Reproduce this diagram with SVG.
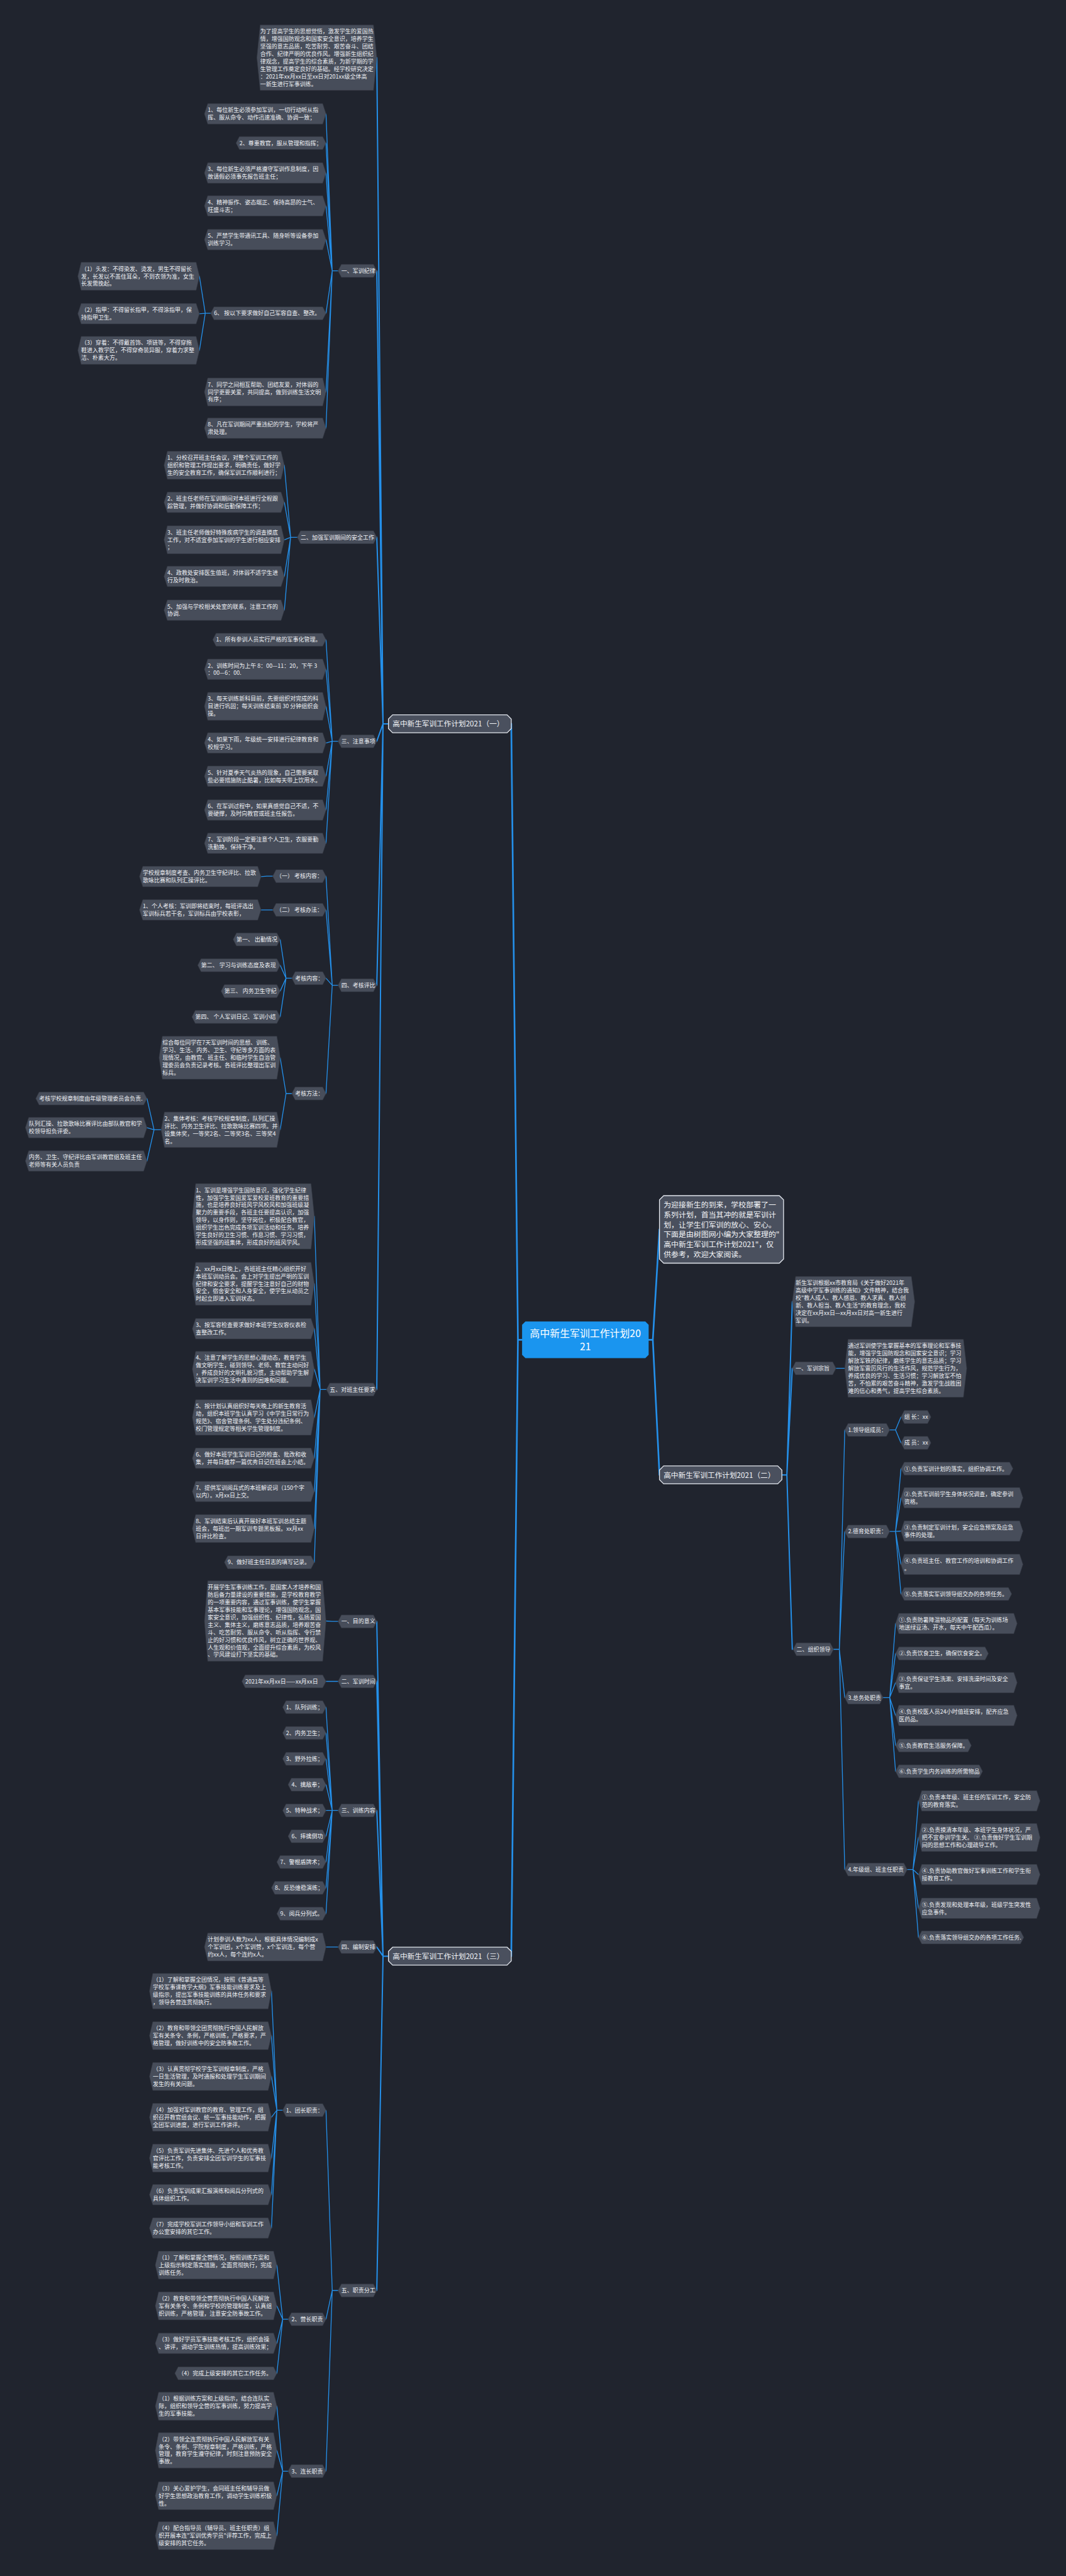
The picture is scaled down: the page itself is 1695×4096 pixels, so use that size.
<svg xmlns="http://www.w3.org/2000/svg" width="1695" height="4096" viewBox="0 0 1695 4096">
<style>
.bg{fill:#20242e}
.n path{fill:#474d5a;stroke:#353a45;stroke-width:1}
.t{font-family:"Noto Sans CJK SC","Microsoft YaHei",sans-serif;font-size:13.6px;fill:#eef0f4}
.l1 path{fill:#4a505e;stroke:#e3e7ee;stroke-width:2}
.t1{font-family:"Noto Sans CJK SC","Microsoft YaHei",sans-serif;font-size:17.6px;fill:#f2f4f7}
.ti{font-family:"Noto Sans CJK SC","Microsoft YaHei",sans-serif;font-size:18px;fill:#f2f4f7}
.root path{fill:#1a95ef}
.tr{font-family:"Noto Sans CJK SC","Microsoft YaHei",sans-serif;font-size:24px;fill:#ffffff;text-anchor:middle}
.c path{fill:none;stroke:#2490ea;stroke-linecap:round;stroke-linejoin:round}
.w1{stroke-width:4}.w2{stroke-width:3}.w3{stroke-width:2}
</style>
<rect class="bg" x="0" y="0" width="1695" height="4096"/>
<g transform="scale(0.662)">
<g id="connectors" class="c">
<path class="w1" d="M1254,3218H1244L1228,1738.5M1244,3218L1228,4698.5M1558,3218H1568L1584,2953M1568,3218L1584,3542.5"/>
<path class="w2" d="M933,1738.5H920M920,1738.5L905,138.5M920,1738.5L905,650.5M920,1738.5L905,1290.5M920,1738.5L905,1780.5M920,1738.5L905,2366.5M920,1738.5L905,3337.5
M933,4698.5H920M920,4698.5L905,3894.5M920,4698.5L905,4038.5M920,4698.5L905,4348.5M920,4698.5L905,4676.5M920,4698.5L905,5501.5
M1878,3542.5H1890M1890,3542.5L1903,3126.5M1890,3542.5L1903,3286.5M1890,3542.5L1903,3961.5"/>
<path class="w3" d="M812,650.5H798M798,650.5L783,273.5M798,650.5L783,343.5M798,650.5L783,415.5M798,650.5L783,494.5M798,650.5L783,575.5M798,650.5L783,752.5M798,650.5L783,941.5M798,650.5L783,1028.5
M506,752.5H493M493,752.5L479,663.5M493,752.5L479,753.5M493,752.5L479,841.5
M714,1290.5H698M698,1290.5L683,1117.5M698,1290.5L683,1206.5M698,1290.5L683,1296.5M698,1290.5L683,1384.5M698,1290.5L683,1465.5
M812,1780.5H798M798,1780.5L783,1536.5M798,1780.5L783,1607.5M798,1780.5L783,1696.5M798,1780.5L783,1784.5M798,1780.5L783,1864.5M798,1780.5L783,1945.5M798,1780.5L783,2025.5
M812,2366.5H798M798,2366.5L783,2104.5M798,2366.5L783,2185.5M798,2366.5L783,2349.5M798,2366.5L783,2626.5
M655,2104.5H641L627,2105.5M655,2185.5H627
M701,2349.5H687M687,2349.5L673,2256.5M687,2349.5L673,2318.5M687,2349.5L673,2380.5M687,2349.5L673,2442.5
M701,2626.5H687M687,2626.5L673,2540.5M687,2626.5L673,2713.5
M387,2713.5H370M370,2713.5L353,2638.5M370,2713.5L353,2708.5M370,2713.5L353,2788.5
M784,3337.5H769M769,3337.5L755,2921.5M769,3337.5L755,3083.5M769,3337.5L755,3191.5M769,3337.5L755,3288.5M769,3337.5L755,3404.5M769,3337.5L755,3502.5M769,3337.5L755,3582.5M769,3337.5L755,3671.5M769,3337.5L755,3752.5
M812,3894.5H798L783,3893.5M812,4038.5H783
M812,4348.5H798M798,4348.5L783,4100.5M798,4348.5L783,4162.5M798,4348.5L783,4224.5M798,4348.5L783,4286.5M798,4348.5L783,4348.5M798,4348.5L783,4410.5M798,4348.5L783,4472.5M798,4348.5L783,4534.5M798,4348.5L783,4596.5
M812,4676.5H783
M812,5501.5H798M798,5501.5L783,5068.5M798,5501.5L783,5570.5M798,5501.5L783,5935.5
M679,5068.5H665M665,5068.5L652,4782.5M665,5068.5L652,4889.5M665,5068.5L652,4987.5M665,5068.5L652,5085.5M665,5068.5L652,5183.5M665,5068.5L652,5271.5M665,5068.5L652,5351.5
M692,5570.5H679M679,5570.5L665,5440.5M679,5570.5L665,5538.5M679,5570.5L665,5628.5M679,5570.5L665,5700.5
M692,5935.5H679M679,5935.5L665,5779.5M679,5935.5L665,5885.5M679,5935.5L665,5994.5M679,5935.5L665,6090.5
M2008,3286.5H2029
M2002,3961.5H2016M2016,3961.5L2029,3434.5M2016,3961.5L2029,3678.5M2016,3961.5L2029,4077.5M2016,3961.5L2029,4490.5
M2137,3434.5H2151M2151,3434.5L2164,3403.5M2151,3434.5L2164,3465.5
M2137,3678.5H2151M2151,3678.5L2164,3527.5M2151,3678.5L2164,3597.5M2151,3678.5L2164,3677.5M2151,3678.5L2164,3757.5M2151,3678.5L2164,3828.5
M2121,4077.5H2137M2137,4077.5L2151,3899.5M2137,4077.5L2151,3971.5M2137,4077.5L2151,4041.5M2137,4077.5L2151,4120.5M2137,4077.5L2151,4192.5M2137,4077.5L2151,4254.5
M2179,4490.5H2193M2193,4490.5L2206,4325.5M2193,4490.5L2206,4413.5M2193,4490.5L2206,4502.5M2193,4490.5L2206,4583.5M2193,4490.5L2206,4653.5"/>
</g>

<g id="root" class="root" transform="translate(1254,3174)"><path d="M8,0H296L304,8V80L296,88H8L0,80V8Z"/><text class="tr" x="152" y="37.5">高中新生军训工作计划20<tspan x="152" dy="32">21</tspan></text></g>

<g id="plan1" class="l1" transform="translate(933,1717)"><path d="M10,0H285L295,10V33L285,43H10L0,33V10Z"/><text class="t1" x="10" y="28.2">高中新生军训工作计划2021（一）</text></g>
<g id="plan2" class="l1" transform="translate(1584,3521)"><path d="M10,0H284L294,10V33L284,43H10L0,33V10Z"/><text class="t1" x="10" y="28.2">高中新生军训工作计划2021（二）</text></g>
<g id="plan3" class="l1" transform="translate(933,4677)"><path d="M10,0H285L295,10V33L285,43H10L0,33V10Z"/><text class="t1" x="10" y="28.2">高中新生军训工作计划2021（三）</text></g>
<g id="intro" class="l1" transform="translate(1584,2872)"><path d="M10,0H288L298,10V152L288,162H10L0,152V10Z"/><text class="ti" x="10" y="28">为迎接新生的到来，学校部署了一<tspan x="10" dy="24">系列计划，首当其冲的就是军训计</tspan><tspan x="10" dy="24">划，让学生们军训的放心、安心。</tspan><tspan x="10" dy="24">下面是由树图网小编为大家整理的"</tspan><tspan x="10" dy="24">高中新生军训工作计划2021"，仅</tspan><tspan x="10" dy="24">供参考，欢迎大家阅读。</tspan></text></g>

<!-- section one -->
<g id="a0" class="n" transform="translate(617,60)"><path d="M8,0H280L288,78.5L280,157H8L0,78.5Z"/><text class="t" x="8" y="20.5">为了提高学生的思想觉悟，激发学生的爱国热<tspan x="8" dy="18">情，增强国防观念和国家安全意识，培养学生</tspan><tspan x="8" dy="18">坚强的意志品质，吃苦耐劳、艰苦奋斗、团结</tspan><tspan x="8" dy="18">合作、纪律严明的优良作风。增强新生组织纪</tspan><tspan x="8" dy="18">律观念，提高学生的综合素质，为新学期的学</tspan><tspan x="8" dy="18">生管理工作奠定良好的基础。经学校研究决定</tspan><tspan x="8" dy="18">：2021年xx月xx日至xx日对201xx级全体高</tspan><tspan x="8" dy="18">一新生进行军事训练。</tspan></text></g>

<g id="a1" class="n" transform="translate(812,635)"><path d="M8,0H85L93,15.5L85,31H8L0,15.5Z"/><text class="t" x="8" y="20.5">一、军训纪律</text></g>
<g id="a1-1" class="n" transform="translate(491,249)"><path d="M8,0H284L292,24.5L284,49H8L0,24.5Z"/><text class="t" x="8" y="20.5">1、每位新生必须参加军训，一切行动听从指<tspan x="8" dy="18">挥、服从命令、动作迅速准确、协调一致；</tspan></text></g>
<g id="a1-2" class="n" transform="translate(567,328)"><path d="M8,0H208L216,15.5L208,31H8L0,15.5Z"/><text class="t" x="8" y="20.5">2、尊重教官，服从管理和指挥；</text></g>
<g id="a1-3" class="n" transform="translate(491,391)"><path d="M8,0H284L292,24.5L284,49H8L0,24.5Z"/><text class="t" x="8" y="20.5">3、每位新生必须严格遵守军训作息制度，因<tspan x="8" dy="18">故请假必须事先报告班主任；</tspan></text></g>
<g id="a1-4" class="n" transform="translate(491,470)"><path d="M8,0H284L292,24.5L284,49H8L0,24.5Z"/><text class="t" x="8" y="20.5">4、精神振作、姿态端正、保持高昂的士气、<tspan x="8" dy="18">旺盛斗志；</tspan></text></g>
<g id="a1-5" class="n" transform="translate(491,551)"><path d="M8,0H284L292,24.5L284,49H8L0,24.5Z"/><text class="t" x="8" y="20.5">5、严禁学生带通讯工具、随身听等设备参加<tspan x="8" dy="18">训练学习。</tspan></text></g>
<g id="a1-6" class="n" transform="translate(506,737)"><path d="M8,0H269L277,15.5L269,31H8L0,15.5Z"/><text class="t" x="8" y="20.5">6、 按以下要求做好自己军容自查、整改。</text></g>
<g id="a1-6-1" class="n" transform="translate(187,630)"><path d="M8,0H284L292,33.5L284,67H8L0,33.5Z"/><text class="t" x="8" y="20.5">（1）头发：不得染发、烫发，男生不得留长<tspan x="8" dy="18">发，长发以不盖住耳朵，不到衣领为准，女生</tspan><tspan x="8" dy="18">长发需挽起。</tspan></text></g>
<g id="a1-6-2" class="n" transform="translate(187,729)"><path d="M8,0H284L292,24.5L284,49H8L0,24.5Z"/><text class="t" x="8" y="20.5">（2）指甲：不得留长指甲，不得涂指甲，保<tspan x="8" dy="18">持指甲卫生。</tspan></text></g>
<g id="a1-6-3" class="n" transform="translate(187,808)"><path d="M8,0H284L292,33.5L284,67H8L0,33.5Z"/><text class="t" x="8" y="20.5">（3）穿着：不得戴首饰、项链等，不得穿拖<tspan x="8" dy="18">鞋进入教学区，不得穿奇装异服，穿着力求整</tspan><tspan x="8" dy="18">洁、朴素大方。</tspan></text></g>
<g id="a1-7" class="n" transform="translate(491,908)"><path d="M8,0H284L292,33.5L284,67H8L0,33.5Z"/><text class="t" x="8" y="20.5">7、同学之间相互帮助、团结友爱，对体弱的<tspan x="8" dy="18">同学更要关爱，共同提高，做到训练生活文明</tspan><tspan x="8" dy="18">有序；</tspan></text></g>
<g id="a1-8" class="n" transform="translate(491,1004)"><path d="M8,0H284L292,24.5L284,49H8L0,24.5Z"/><text class="t" x="8" y="20.5">8、凡在军训期间严重违纪的学生，学校将严<tspan x="8" dy="18">肃处理。</tspan></text></g>

<g id="a2" class="n" transform="translate(714,1275)"><path d="M8,0H183L191,15.5L183,31H8L0,15.5Z"/><text class="t" x="8" y="20.5">二、加强军训期间的安全工作</text></g>
<g id="a2-1" class="n" transform="translate(394,1084)"><path d="M8,0H281L289,33.5L281,67H8L0,33.5Z"/><text class="t" x="8" y="20.5">1、分校召开班主任会议，对整个军训工作的<tspan x="8" dy="18">组织和管理工作提出要求，明确责任，做好学</tspan><tspan x="8" dy="18">生的安全教育工作，确保军训工作顺利进行；</tspan></text></g>
<g id="a2-2" class="n" transform="translate(394,1182)"><path d="M8,0H281L289,24.5L281,49H8L0,24.5Z"/><text class="t" x="8" y="20.5">2、班主任老师在军训期间对本班进行全程跟<tspan x="8" dy="18">踪管理，并做好协调和后勤保障工作；</tspan></text></g>
<g id="a2-3" class="n" transform="translate(394,1263)"><path d="M8,0H281L289,33.5L281,67H8L0,33.5Z"/><text class="t" x="8" y="20.5">3、班主任老师做好特殊疾病学生的调查摸底<tspan x="8" dy="18">工作，对不适宜参加军训的学生进行相应安排</tspan><tspan x="8" dy="18">；</tspan></text></g>
<g id="a2-4" class="n" transform="translate(394,1360)"><path d="M8,0H281L289,24.5L281,49H8L0,24.5Z"/><text class="t" x="8" y="20.5">4、政教处安排医生值班，对体弱不适学生进<tspan x="8" dy="18">行及时救治。</tspan></text></g>
<g id="a2-5" class="n" transform="translate(394,1441)"><path d="M8,0H281L289,24.5L281,49H8L0,24.5Z"/><text class="t" x="8" y="20.5">5、加强与学校相关处室的联系，注意工作的<tspan x="8" dy="18">协调.</tspan></text></g>

<g id="a3" class="n" transform="translate(812,1765)"><path d="M8,0H85L93,15.5L85,31H8L0,15.5Z"/><text class="t" x="8" y="20.5">三、注意事项</text></g>
<g id="a3-1" class="n" transform="translate(511,1521)"><path d="M8,0H264L272,15.5L264,31H8L0,15.5Z"/><text class="t" x="8" y="20.5">1、所有参训人员实行严格的军事化管理。</text></g>
<g id="a3-2" class="n" transform="translate(491,1583)"><path d="M8,0H284L292,24.5L284,49H8L0,24.5Z"/><text class="t" x="8" y="20.5">2、训练时间为上午 8：00—11：20，下午 3<tspan x="8" dy="18">：00—6：00.</tspan></text></g>
<g id="a3-3" class="n" transform="translate(491,1663)"><path d="M8,0H284L292,33.5L284,67H8L0,33.5Z"/><text class="t" x="8" y="20.5">3、每天训练新科目前，先要组织对完成的科<tspan x="8" dy="18">目进行巩固；每天训练结束前 30 分钟组织会</tspan><tspan x="8" dy="18">操。</tspan></text></g>
<g id="a3-4" class="n" transform="translate(491,1760)"><path d="M8,0H284L292,24.5L284,49H8L0,24.5Z"/><text class="t" x="8" y="20.5">4、如果下雨，年级统一安排进行纪律教育和<tspan x="8" dy="18">校规学习。</tspan></text></g>
<g id="a3-5" class="n" transform="translate(491,1840)"><path d="M8,0H284L292,24.5L284,49H8L0,24.5Z"/><text class="t" x="8" y="20.5">5、针对夏季天气炎热的现象，自己需要采取<tspan x="8" dy="18">些必要措施防止酷暑，比如每天带上饮用水。</tspan></text></g>
<g id="a3-6" class="n" transform="translate(491,1921)"><path d="M8,0H284L292,24.5L284,49H8L0,24.5Z"/><text class="t" x="8" y="20.5">6、在军训过程中，如果真感觉自己不适，不<tspan x="8" dy="18">要硬撑，及时向教官或班主任报告。</tspan></text></g>
<g id="a3-7" class="n" transform="translate(491,2001)"><path d="M8,0H284L292,24.5L284,49H8L0,24.5Z"/><text class="t" x="8" y="20.5">7、军训阶段一定要注意个人卫生，衣服要勤<tspan x="8" dy="18">洗勤换。保持干净。</tspan></text></g>

<g id="a4" class="n" transform="translate(812,2351)"><path d="M8,0H85L93,15.5L85,31H8L0,15.5Z"/><text class="t" x="8" y="20.5">四、考核评比</text></g>
<g id="a4-1" class="n" transform="translate(655,2089)"><path d="M8,0H120L128,15.5L120,31H8L0,15.5Z"/><text class="t" x="8" y="20.5">（一） 考核内容：</text></g>
<g id="a4-1-1" class="n" transform="translate(335,2081)"><path d="M8,0H284L292,24.5L284,49H8L0,24.5Z"/><text class="t" x="8" y="20.5">学校规章制度考查、内务卫生守纪评比、拉歌<tspan x="8" dy="18">歌咏比赛和队列汇操评比。</tspan></text></g>
<g id="a4-2" class="n" transform="translate(655,2170)"><path d="M8,0H120L128,15.5L120,31H8L0,15.5Z"/><text class="t" x="8" y="20.5">（二） 考核办法：</text></g>
<g id="a4-2-1" class="n" transform="translate(335,2161)"><path d="M8,0H284L292,24.5L284,49H8L0,24.5Z"/><text class="t" x="8" y="20.5">1、个人考核：军训即将结束时，每班评选出<tspan x="8" dy="18">军训标兵若干名，军训标兵由学校表彰，</tspan></text></g>
<g id="a4-3" class="n" transform="translate(701,2334)"><path d="M8,0H74L82,15.5L74,31H8L0,15.5Z"/><text class="t" x="8" y="20.5">考核内容：</text></g>
<g id="a4-3-1" class="n" transform="translate(560,2241)"><path d="M8,0H105L113,15.5L105,31H8L0,15.5Z"/><text class="t" x="8" y="20.5">第一、 出勤情况</text></g>
<g id="a4-3-2" class="n" transform="translate(475,2303)"><path d="M8,0H190L198,15.5L190,31H8L0,15.5Z"/><text class="t" x="8" y="20.5">第二、 学习与训练态度及表现</text></g>
<g id="a4-3-3" class="n" transform="translate(531,2365)"><path d="M8,0H134L142,15.5L134,31H8L0,15.5Z"/><text class="t" x="8" y="20.5">第三、 内务卫生守纪</text></g>
<g id="a4-3-4" class="n" transform="translate(461,2427)"><path d="M8,0H204L212,15.5L204,31H8L0,15.5Z"/><text class="t" x="8" y="20.5">第四、 个人军训日记、军训小结</text></g>
<g id="a4-4" class="n" transform="translate(701,2611)"><path d="M8,0H74L82,15.5L74,31H8L0,15.5Z"/><text class="t" x="8" y="20.5">考核方法：</text></g>
<g id="a4-4-1" class="n" transform="translate(382,2489)"><path d="M8,0H283L291,51.5L283,103H8L0,51.5Z"/><text class="t" x="8" y="20.5">综合每位同学在7天军训时间的思想、训练、<tspan x="8" dy="18">学习、生活、内务、卫生、守纪等多方面的表</tspan><tspan x="8" dy="18">现情况，由教官、班主任、和临时学生自治管</tspan><tspan x="8" dy="18">理委员会负责记录考核。各班评比整理出军训</tspan><tspan x="8" dy="18">标兵。</tspan></text></g>
<g id="a4-4-2" class="n" transform="translate(387,2671)"><path d="M8,0H278L286,42.5L278,85H8L0,42.5Z"/><text class="t" x="8" y="20.5">2、集体考核：考核学校规章制度，队列汇操<tspan x="8" dy="18">评比、内务卫生评比、拉歌歌咏比赛四项。并</tspan><tspan x="8" dy="18">设集体奖，一等奖2名、二等奖3名、三等奖4</tspan><tspan x="8" dy="18">名。</tspan></text></g>
<g id="a4-4-2-1" class="n" transform="translate(86,2623)"><path d="M8,0H259L267,15.5L259,31H8L0,15.5Z"/><text class="t" x="8" y="20.5">考核学校规章制度由年级管理委员会负责.</text></g>
<g id="a4-4-2-2" class="n" transform="translate(61,2684)"><path d="M8,0H284L292,24.5L284,49H8L0,24.5Z"/><text class="t" x="8" y="20.5">队列汇操、拉歌歌咏比赛评比由部队教官和学<tspan x="8" dy="18">校领导担负评委。</tspan></text></g>
<g id="a4-4-2-3" class="n" transform="translate(61,2764)"><path d="M8,0H284L292,24.5L284,49H8L0,24.5Z"/><text class="t" x="8" y="20.5">内务、卫生、守纪评比由军训教官组及班主任<tspan x="8" dy="18">老师等有关人员负责</tspan></text></g>

<g id="a5" class="n" transform="translate(784,3322)"><path d="M8,0H113L121,15.5L113,31H8L0,15.5Z"/><text class="t" x="8" y="20.5">五、对班主任要求</text></g>
<g id="a5-1" class="n" transform="translate(462,2843)"><path d="M8,0H285L293,78.5L285,157H8L0,78.5Z"/><text class="t" x="8" y="20.5">1、军训是增强学生国防意识，强化学生纪律<tspan x="8" dy="18">性，加强学生爱国爱军爱校爱班教育的重要措</tspan><tspan x="8" dy="18">施，也是培养良好班风学风校风和加强班级凝</tspan><tspan x="8" dy="18">聚力的重要手段，各班主任要提高认识，加强</tspan><tspan x="8" dy="18">领导，以身作则，坚守岗位，积极配合教官，</tspan><tspan x="8" dy="18">组织学生出色完成各项军训活动和任务。培养</tspan><tspan x="8" dy="18">学生良好的卫生习惯、作息习惯、学习习惯，</tspan><tspan x="8" dy="18">形成坚强的班集体，形成良好的班风学风。</tspan></text></g>
<g id="a5-2" class="n" transform="translate(462,3032)"><path d="M8,0H285L293,51.5L285,103H8L0,51.5Z"/><text class="t" x="8" y="20.5">2、xx月xx日晚上，各班班主任精心组织开好<tspan x="8" dy="18">本班军训动员会。会上对学生提出严明的军训</tspan><tspan x="8" dy="18">纪律和安全要求，提醒学生注意好自己的财物</tspan><tspan x="8" dy="18">安全，宿舍安全和人身安全，使学生从动员之</tspan><tspan x="8" dy="18">时起立即进入军训状态。</tspan></text></g>
<g id="a5-3" class="n" transform="translate(462,3167)"><path d="M8,0H285L293,24.5L285,49H8L0,24.5Z"/><text class="t" x="8" y="20.5">3、按军容检查要求做好本班学生仪容仪表检<tspan x="8" dy="18">查整改工作。</tspan></text></g>
<g id="a5-4" class="n" transform="translate(462,3246)"><path d="M8,0H285L293,42.5L285,85H8L0,42.5Z"/><text class="t" x="8" y="20.5">4、注意了解学生的思想心理动态，教育学生<tspan x="8" dy="18">做文明学生，碰到领导、老师、教官主动问好</tspan><tspan x="8" dy="18">，养成良好的文明礼貌习惯，主动帮助学生解</tspan><tspan x="8" dy="18">决军训学习生活中遇到的困难和问题。</tspan></text></g>
<g id="a5-5" class="n" transform="translate(462,3362)"><path d="M8,0H285L293,42.5L285,85H8L0,42.5Z"/><text class="t" x="8" y="20.5">5、按计划认真组织好每天晚上的新生教育活<tspan x="8" dy="18">动，组织本班学生认真学习《中学生日常行为</tspan><tspan x="8" dy="18">规范》、宿舍管理条例、学生处分违纪条例、</tspan><tspan x="8" dy="18">校门管理规定等相关学生管理制度。</tspan></text></g>
<g id="a5-6" class="n" transform="translate(462,3478)"><path d="M8,0H285L293,24.5L285,49H8L0,24.5Z"/><text class="t" x="8" y="20.5">6、做好本班学生军训日记的检查、批改和收<tspan x="8" dy="18">集，并每日推荐一篇优秀日记在班会上小结。</tspan></text></g>
<g id="a5-7" class="n" transform="translate(462,3558)"><path d="M8,0H285L293,24.5L285,49H8L0,24.5Z"/><text class="t" x="8" y="20.5">7、提供军训阅兵式的本班解说词（150个字<tspan x="8" dy="18">以内）。x月xx日上交。</tspan></text></g>
<g id="a5-8" class="n" transform="translate(462,3638)"><path d="M8,0H285L293,33.5L285,67H8L0,33.5Z"/><text class="t" x="8" y="20.5">8、军训结束后认真开展好本班军训总结主题<tspan x="8" dy="18">班会，每班出一期军训专题黑板报。xx月xx</tspan><tspan x="8" dy="18">日评比检查。</tspan></text></g>
<g id="a5-9" class="n" transform="translate(539,3737)"><path d="M8,0H208L216,15.5L208,31H8L0,15.5Z"/><text class="t" x="8" y="20.5">9、做好班主任日志的填写记录。</text></g>

<!-- section three -->
<g id="c1" class="n" transform="translate(812,3879)"><path d="M8,0H85L93,15.5L85,31H8L0,15.5Z"/><text class="t" x="8" y="20.5">一、目的意义</text></g>
<g id="c1-1" class="n" transform="translate(491,3797)"><path d="M8,0H284L292,96.5L284,193H8L0,96.5Z"/><text class="t" x="8" y="20.5">开展学生军事训练工作，是国家人才培养和国<tspan x="8" dy="18">防后备力量建设的重要措施，是学校教育教学</tspan><tspan x="8" dy="18">的一项重要内容，通过军事训练，使学生掌握</tspan><tspan x="8" dy="18">基本军事技能和军事理论，增强国防观念，国</tspan><tspan x="8" dy="18">家安全意识，加强组织性、纪律性，弘扬爱国</tspan><tspan x="8" dy="18">主义、集体主义，磨练意志品质，培养艰苦奋</tspan><tspan x="8" dy="18">斗、吃苦耐劳、服从命令、听从指挥、令行禁</tspan><tspan x="8" dy="18">止的好习惯和优良作风，树立正确的世界观、</tspan><tspan x="8" dy="18">人生观和价值观，全面提升综合素质，为校风</tspan><tspan x="8" dy="18">、学风建设打下坚实的基础。</tspan></text></g>
<g id="c2" class="n" transform="translate(812,4023)"><path d="M8,0H85L93,15.5L85,31H8L0,15.5Z"/><text class="t" x="8" y="20.5">二、军训时间</text></g>
<g id="c2-1" class="n" transform="translate(581,4023)"><path d="M8,0H194L202,15.5L194,31H8L0,15.5Z"/><text class="t" x="8" y="20.5">2021年xx月xx日——xx月xx日</text></g>
<g id="c3" class="n" transform="translate(812,4333)"><path d="M8,0H85L93,15.5L85,31H8L0,15.5Z"/><text class="t" x="8" y="20.5">三、训练内容</text></g>
<g id="c3-1" class="n" transform="translate(679,4085)"><path d="M8,0H96L104,15.5L96,31H8L0,15.5Z"/><text class="t" x="8" y="20.5">1、队列训练；</text></g>
<g id="c3-2" class="n" transform="translate(679,4147)"><path d="M8,0H96L104,15.5L96,31H8L0,15.5Z"/><text class="t" x="8" y="20.5">2、内务卫生；</text></g>
<g id="c3-3" class="n" transform="translate(679,4209)"><path d="M8,0H96L104,15.5L96,31H8L0,15.5Z"/><text class="t" x="8" y="20.5">3、野外拉练；</text></g>
<g id="c3-4" class="n" transform="translate(692,4271)"><path d="M8,0H83L91,15.5L83,31H8L0,15.5Z"/><text class="t" x="8" y="20.5">4、擒敌拳；</text></g>
<g id="c3-5" class="n" transform="translate(679,4333)"><path d="M8,0H96L104,15.5L96,31H8L0,15.5Z"/><text class="t" x="8" y="20.5">5、特种战术；</text></g>
<g id="c3-6" class="n" transform="translate(692,4395)"><path d="M8,0H83L91,15.5L83,31H8L0,15.5Z"/><text class="t" x="8" y="20.5">6、摔擒倒功</text></g>
<g id="c3-7" class="n" transform="translate(665,4457)"><path d="M8,0H110L118,15.5L110,31H8L0,15.5Z"/><text class="t" x="8" y="20.5">7、警棍盾牌术；</text></g>
<g id="c3-8" class="n" transform="translate(652,4519)"><path d="M8,0H123L131,15.5L123,31H8L0,15.5Z"/><text class="t" x="8" y="20.5">8、反恐维稳演练；</text></g>
<g id="c3-9" class="n" transform="translate(665,4581)"><path d="M8,0H110L118,15.5L110,31H8L0,15.5Z"/><text class="t" x="8" y="20.5">9、阅兵分列式。</text></g>
<g id="c4" class="n" transform="translate(812,4661)"><path d="M8,0H85L93,15.5L85,31H8L0,15.5Z"/><text class="t" x="8" y="20.5">四、编制安排</text></g>
<g id="c4-1" class="n" transform="translate(491,4643)"><path d="M8,0H284L292,33.5L284,67H8L0,33.5Z"/><text class="t" x="8" y="20.5">计划参训人数为xx人，根据具体情况编制成x<tspan x="8" dy="18">个军训团，x个军训营，x个军训连，每个营</tspan><tspan x="8" dy="18">约xx人，每个连约x人。</tspan></text></g>
<g id="c5" class="n" transform="translate(812,5486)"><path d="M8,0H85L93,15.5L85,31H8L0,15.5Z"/><text class="t" x="8" y="20.5">五、职责分工</text></g>
<g id="c5-1" class="n" transform="translate(679,5053)"><path d="M8,0H96L104,15.5L96,31H8L0,15.5Z"/><text class="t" x="8" y="20.5">1、团长职责：</text></g>
<g id="c5-1-1" class="n" transform="translate(359,4740)"><path d="M8,0H285L293,42.5L285,85H8L0,42.5Z"/><text class="t" x="8" y="20.5">（1）了解和掌握全团情况，按照《普通高等<tspan x="8" dy="18">学校军事课教学大纲》军事技能训练要求及上</tspan><tspan x="8" dy="18">级指示，提出军事技能训练的具体任务和要求</tspan><tspan x="8" dy="18">，领导各营连贯彻执行。</tspan></text></g>
<g id="c5-1-2" class="n" transform="translate(359,4856)"><path d="M8,0H285L293,33.5L285,67H8L0,33.5Z"/><text class="t" x="8" y="20.5">（2）教育和带领全团贯彻执行中国人民解放<tspan x="8" dy="18">军有关条令、条例，严格训练，严格要求，严</tspan><tspan x="8" dy="18">格管理，做好训练中的安全防事故工作。</tspan></text></g>
<g id="c5-1-3" class="n" transform="translate(359,4954)"><path d="M8,0H285L293,33.5L285,67H8L0,33.5Z"/><text class="t" x="8" y="20.5">（3）认真贯彻学校学生军训规章制度，严格<tspan x="8" dy="18">一日生活管理，及时通报和处理学生军训期间</tspan><tspan x="8" dy="18">发生的有关问题。</tspan></text></g>
<g id="c5-1-4" class="n" transform="translate(359,5052)"><path d="M8,0H285L293,33.5L285,67H8L0,33.5Z"/><text class="t" x="8" y="20.5">（4）加强对军训教官的教育、管理工作，组<tspan x="8" dy="18">织召开教官组会议、统一军事技能动作，把握</tspan><tspan x="8" dy="18">全团军训进度，进行军训工作讲评。</tspan></text></g>
<g id="c5-1-5" class="n" transform="translate(359,5150)"><path d="M8,0H285L293,33.5L285,67H8L0,33.5Z"/><text class="t" x="8" y="20.5">（5）负责军训先进集体、先进个人和优秀教<tspan x="8" dy="18">官评比工作，负责安排全团军训学生的军事技</tspan><tspan x="8" dy="18">能考核工作。</tspan></text></g>
<g id="c5-1-6" class="n" transform="translate(359,5247)"><path d="M8,0H285L293,24.5L285,49H8L0,24.5Z"/><text class="t" x="8" y="20.5">（6）负责军训成果汇报演练和阅兵分列式的<tspan x="8" dy="18">具体组织工作。</tspan></text></g>
<g id="c5-1-7" class="n" transform="translate(359,5327)"><path d="M8,0H285L293,24.5L285,49H8L0,24.5Z"/><text class="t" x="8" y="20.5">（7）完成学校军训工作领导小组和军训工作<tspan x="8" dy="18">办公室安排的其它工作。</tspan></text></g>
<g id="c5-2" class="n" transform="translate(692,5555)"><path d="M8,0H83L91,15.5L83,31H8L0,15.5Z"/><text class="t" x="8" y="20.5">2、营长职责</text></g>
<g id="c5-2-1" class="n" transform="translate(373,5407)"><path d="M8,0H284L292,33.5L284,67H8L0,33.5Z"/><text class="t" x="8" y="20.5">（1）了解和掌握全营情况，按照训练方案和<tspan x="8" dy="18">上级指示制定落实措施，全面贯彻执行，完成</tspan><tspan x="8" dy="18">训练任务。</tspan></text></g>
<g id="c5-2-2" class="n" transform="translate(373,5505)"><path d="M8,0H284L292,33.5L284,67H8L0,33.5Z"/><text class="t" x="8" y="20.5">（2）教育和带领全营贯彻执行中国人民解放<tspan x="8" dy="18">军有关条令、条例和学校的管理制度，认真组</tspan><tspan x="8" dy="18">织训练，严格管理，注意安全防事故工作。</tspan></text></g>
<g id="c5-2-3" class="n" transform="translate(373,5604)"><path d="M8,0H284L292,24.5L284,49H8L0,24.5Z"/><text class="t" x="8" y="20.5">（3）做好学员军事技能考核工作，组织会操<tspan x="8" dy="18">、讲评，调动学生训练热情，提高训练效果；</tspan></text></g>
<g id="c5-2-4" class="n" transform="translate(420,5685)"><path d="M8,0H237L245,15.5L237,31H8L0,15.5Z"/><text class="t" x="8" y="20.5">（4）完成上级安排的其它工作任务。</text></g>
<g id="c5-3" class="n" transform="translate(692,5920)"><path d="M8,0H83L91,15.5L83,31H8L0,15.5Z"/><text class="t" x="8" y="20.5">3、连长职责</text></g>
<g id="c5-3-1" class="n" transform="translate(373,5746)"><path d="M8,0H284L292,33.5L284,67H8L0,33.5Z"/><text class="t" x="8" y="20.5">（1）根据训练方案和上级指示，结合连队实<tspan x="8" dy="18">际，组织和领导全营的军事训练，努力提高学</tspan><tspan x="8" dy="18">生的军事技能。</tspan></text></g>
<g id="c5-3-2" class="n" transform="translate(373,5843)"><path d="M8,0H284L292,42.5L284,85H8L0,42.5Z"/><text class="t" x="8" y="20.5">（2）带领全连贯彻执行中国人民解放军有关<tspan x="8" dy="18">条令、条例、学院规章制度，严格训练，严格</tspan><tspan x="8" dy="18">管理，教育学生遵守纪律，时刻注意预防安全</tspan><tspan x="8" dy="18">事故。</tspan></text></g>
<g id="c5-3-3" class="n" transform="translate(373,5961)"><path d="M8,0H284L292,33.5L284,67H8L0,33.5Z"/><text class="t" x="8" y="20.5">（3）关心爱护学生，会同班主任和辅导员做<tspan x="8" dy="18">好学生思想政治教育工作，调动学生训练积极</tspan><tspan x="8" dy="18">性。</tspan></text></g>
<g id="c5-3-4" class="n" transform="translate(373,6057)"><path d="M8,0H284L292,33.5L284,67H8L0,33.5Z"/><text class="t" x="8" y="20.5">（4）配合指导员（辅导员、班主任职责）组<tspan x="8" dy="18">织开展本连"军训优秀学员"评荐工作，完成上</tspan><tspan x="8" dy="18">级安排的其它任务。</tspan></text></g>

<!-- section two -->
<g id="b1" class="n" transform="translate(1903,3066)"><path d="M8,0H286L294,60.5L286,121H8L0,60.5Z"/><text class="t" x="8" y="20.5">新生军训根据xx市教育局《关于做好2021年<tspan x="8" dy="18">高级中学军事训练的通知》文件精神，结合我</tspan><tspan x="8" dy="18">校"教人成人、教人感恩、教人求真、教人创</tspan><tspan x="8" dy="18">新、教人担当、教人生活"的教育理念，我校</tspan><tspan x="8" dy="18">决定在xx月xx日—xx月xx日对高一新生进行</tspan><tspan x="8" dy="18">军训。</tspan></text></g>
<g id="b2" class="n" transform="translate(1903,3271)"><path d="M8,0H97L105,15.5L97,31H8L0,15.5Z"/><text class="t" x="8" y="20.5">一、军训宗旨</text></g>
<g id="b2-1" class="n" transform="translate(2029,3217)"><path d="M8,0H285L293,69.5L285,139H8L0,69.5Z"/><text class="t" x="8" y="20.5">通过军训使学生掌握基本的军事理论和军事技<tspan x="8" dy="18">能，增强学生国防观念和国家安全意识；学习</tspan><tspan x="8" dy="18">解放军铁的纪律，磨练学生的意志品质；学习</tspan><tspan x="8" dy="18">解放军雷厉风行的生活作风，规范学生行为，</tspan><tspan x="8" dy="18">养成优良的学习、生活习惯；学习解放军不怕</tspan><tspan x="8" dy="18">苦，不怕累的艰苦奋斗精神，激发学生战胜困</tspan><tspan x="8" dy="18">难的信心和勇气，提高学生综合素质。</tspan></text></g>
<g id="b3" class="n" transform="translate(1905,3946)"><path d="M8,0H89L97,15.5L89,31H8L0,15.5Z"/><text class="t" x="8" y="20.5">二、组织领导</text></g>
<g id="b3-1" class="n" transform="translate(2029,3419)"><path d="M8,0H100L108,15.5L100,31H8L0,15.5Z"/><text class="t" x="8" y="20.5">1.领导组成员：</text></g>
<g id="b3-1-1" class="n" transform="translate(2164,3388)"><path d="M8,0H64L72,15.5L64,31H8L0,15.5Z"/><text class="t" x="8" y="20.5">组 长：xx</text></g>
<g id="b3-1-2" class="n" transform="translate(2164,3450)"><path d="M8,0H64L72,15.5L64,31H8L0,15.5Z"/><text class="t" x="8" y="20.5">成 员：xx</text></g>
<g id="b3-2" class="n" transform="translate(2029,3663)"><path d="M8,0H100L108,15.5L100,31H8L0,15.5Z"/><text class="t" x="8" y="20.5">2.德育处职责：</text></g>
<g id="b3-2-1" class="n" transform="translate(2164,3512)"><path d="M8,0H261L269,15.5L261,31H8L0,15.5Z"/><text class="t" x="8" y="20.5">①.负责军训计划的落实，组织协调工作。</text></g>
<g id="b3-2-2" class="n" transform="translate(2164,3573)"><path d="M8,0H285L293,24.5L285,49H8L0,24.5Z"/><text class="t" x="8" y="20.5">②.负责军训前学生身体状况调查，确定参训<tspan x="8" dy="18">资格。</tspan></text></g>
<g id="b3-2-3" class="n" transform="translate(2164,3653)"><path d="M8,0H285L293,24.5L285,49H8L0,24.5Z"/><text class="t" x="8" y="20.5">③.负责制定军训计划，安全应急预案及应急<tspan x="8" dy="18">事件的处理。</tspan></text></g>
<g id="b3-2-4" class="n" transform="translate(2164,3733)"><path d="M8,0H285L293,24.5L285,49H8L0,24.5Z"/><text class="t" x="8" y="20.5">④.负责班主任、教官工作的培训和协调工作<tspan x="8" dy="18">。</tspan></text></g>
<g id="b3-2-5" class="n" transform="translate(2164,3813)"><path d="M8,0H258L266,15.5L258,31H8L0,15.5Z"/><text class="t" x="8" y="20.5">⑤.负责落实军训领导组交办的各项任务。</text></g>
<g id="b3-3" class="n" transform="translate(2029,4062)"><path d="M8,0H84L92,15.5L84,31H8L0,15.5Z"/><text class="t" x="8" y="20.5">3.总务处职责</text></g>
<g id="b3-3-1" class="n" transform="translate(2151,3875)"><path d="M8,0H284L292,24.5L284,49H8L0,24.5Z"/><text class="t" x="8" y="20.5">①.负责防暑降温物品的配置（每天为训练场<tspan x="8" dy="18">地送绿豆汤、开水，每天中午配西瓜）。</tspan></text></g>
<g id="b3-3-2" class="n" transform="translate(2151,3956)"><path d="M8,0H215L223,15.5L215,31H8L0,15.5Z"/><text class="t" x="8" y="20.5">②.负责饮食卫生，确保饮食安全。</text></g>
<g id="b3-3-3" class="n" transform="translate(2151,4017)"><path d="M8,0H284L292,24.5L284,49H8L0,24.5Z"/><text class="t" x="8" y="20.5">③.负责保证学生洗漱、安排洗澡时间及安全<tspan x="8" dy="18">事宜。</tspan></text></g>
<g id="b3-3-4" class="n" transform="translate(2151,4096)"><path d="M8,0H284L292,24.5L284,49H8L0,24.5Z"/><text class="t" x="8" y="20.5">④.负责校医人员24小时值班安排，配齐应急<tspan x="8" dy="18">医药品。</tspan></text></g>
<g id="b3-3-5" class="n" transform="translate(2151,4177)"><path d="M8,0H174L182,15.5L174,31H8L0,15.5Z"/><text class="t" x="8" y="20.5">⑤.负责教官生活服务保障。</text></g>
<g id="b3-3-6" class="n" transform="translate(2151,4239)"><path d="M8,0H201L209,15.5L201,31H8L0,15.5Z"/><text class="t" x="8" y="20.5">⑥.负责学生内务训练的所需物品</text></g>
<g id="b3-4" class="n" transform="translate(2029,4475)"><path d="M8,0H142L150,15.5L142,31H8L0,15.5Z"/><text class="t" x="8" y="20.5">4.年级组、班主任职责</text></g>
<g id="b3-4-1" class="n" transform="translate(2206,4301)"><path d="M8,0H284L292,24.5L284,49H8L0,24.5Z"/><text class="t" x="8" y="20.5">①.负责本年级、班主任的军训工作，安全防<tspan x="8" dy="18">范的教育落实。</tspan></text></g>
<g id="b3-4-2" class="n" transform="translate(2206,4380)"><path d="M8,0H284L292,33.5L284,67H8L0,33.5Z"/><text class="t" x="8" y="20.5">②.负责摸清本年级、本班学生身体状况，严<tspan x="8" dy="18">把不宜参训学生关。 ③.负责做好学生军训期</tspan><tspan x="8" dy="18">间的思想工作和心理疏导工作。</tspan></text></g>
<g id="b3-4-3" class="n" transform="translate(2206,4478)"><path d="M8,0H284L292,24.5L284,49H8L0,24.5Z"/><text class="t" x="8" y="20.5">④.负责协助教官做好军事训练工作和学生衔<tspan x="8" dy="18">接教育工作。</tspan></text></g>
<g id="b3-4-4" class="n" transform="translate(2206,4559)"><path d="M8,0H284L292,24.5L284,49H8L0,24.5Z"/><text class="t" x="8" y="20.5">⑤.负责发现和处理本年级，班级学生突发性<tspan x="8" dy="18">应急事件。</tspan></text></g>
<g id="b3-4-5" class="n" transform="translate(2206,4638)"><path d="M8,0H245L253,15.5L245,31H8L0,15.5Z"/><text class="t" x="8" y="20.5">⑥.负责落实领导组交办的各项工作任务.</text></g>
</g>
</svg>
